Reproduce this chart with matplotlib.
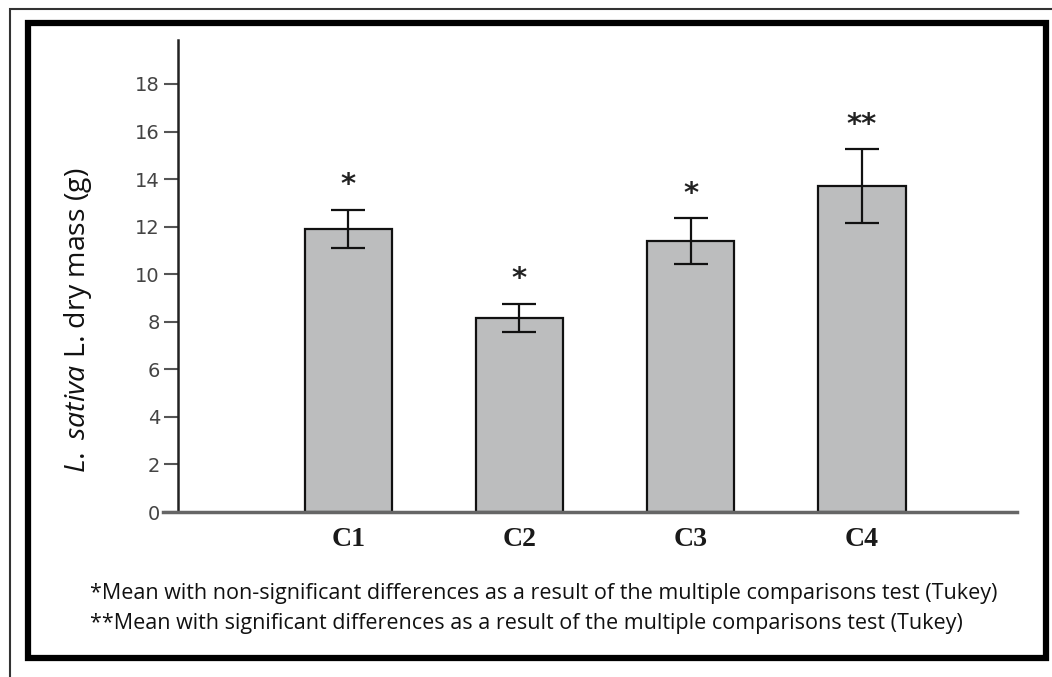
import numpy as np
import matplotlib.pyplot as plt
from matplotlib.patches import Rectangle

groups = ["C1", "C2", "C3", "C4"]
mass = [11.9, 8.15, 11.4, 13.7]
err = [0.8, 0.6, 0.95, 1.55]
marks = ["*", "*", "*", "**"]
yticks = [0, 2, 4, 6, 8, 10, 12, 14, 16, 18]
notes = ["*Mean with non-significant differences as a result of the multiple comparisons test (Tukey)",
         "**Mean with significant differences as a result of the multiple comparisons test (Tukey)"]

plt.rcParams['mathtext.fontset'] = 'custom'
plt.rcParams['mathtext.rm'] = 'Open Sans'
plt.rcParams['mathtext.it'] = 'Open Sans:italic'

W, H = 1052, 677
fig = plt.figure(figsize=(W/100, H/100), dpi=100)

def fx(px):
    return px / W

def fy(py):
    return 1 - py / H

# outer thin frame and inner thick frame
fig.patches.append(Rectangle((fx(10), fy(700)), fx(1060) - fx(10), fy(9) - fy(700),
                             transform=fig.transFigure, fill=False, ec='#333333', lw=1.5))
fig.patches.append(Rectangle((fx(28), fy(658)), fx(1046) - fx(28), fy(22.5) - fy(658),
                             transform=fig.transFigure, fill=False, ec='black', lw=4.5))

ax = fig.add_axes([fx(178), fy(512), fx(1017) - fx(178), fy(40) - fy(512)])
x = np.arange(len(groups))
ax.bar(x, mass, width=0.51, color='#bcbdbe', edgecolor='#111111', linewidth=1.6, zorder=2)
ax.errorbar(x, mass, yerr=err, fmt='none', ecolor='#111111', elinewidth=1.6,
            capsize=12, capthick=1.6, zorder=3)
for xi, m, e, s in zip(x, mass, err, marks):
    ax.text(xi, m + e + 0.45, s, ha='center', va='bottom', fontsize=21,
            color='#222222', family='DejaVu Sans', fontweight='bold')

ax.set_xlim(-0.994, 3.906)
ax.set_ylim(0, 19.85)
ax.set_yticks(yticks)
ax.set_yticklabels([str(t) for t in yticks], fontsize=14, color='#444444')
ax.tick_params(axis='y', length=10, width=1.5, color='#555555', pad=3)
ax.set_xticks(x)
ax.set_xticklabels(groups, fontsize=20, fontweight='bold', family='Liberation Serif',
                   color='#1a1a1a')
ax.tick_params(axis='x', length=0, pad=11)
for side in ['top', 'right']:
    ax.spines[side].set_visible(False)
ax.spines['left'].set_linewidth(1.8)
ax.spines['left'].set_color('#222222')
ax.spines['bottom'].set_linewidth(2.5)
ax.spines['bottom'].set_color('#666666')
ax.spines['bottom'].set_bounds(-1.08, 3.906)

fig.text(fx(78), fy(320), r"$\mathit{L.}$ $\mathit{sativa}$ L. dry mass (g)", rotation=90,
         ha='center', va='center', fontsize=20.5, family='Open Sans', color='#111111')

for i, line in enumerate(notes):
    fig.text(fx(90), fy(593 + 30*i), line, ha='left', va='center', fontsize=15.5,
             family='Open Sans', color='#111111')

fig.savefig('out.png', dpi=100)
